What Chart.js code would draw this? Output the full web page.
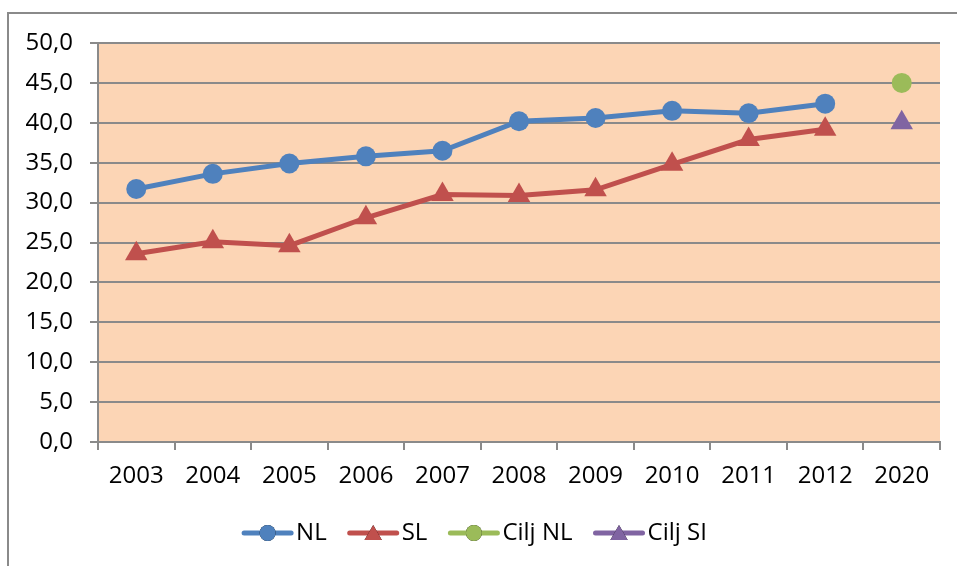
<!DOCTYPE html>
<html>
<head>
<meta charset="utf-8">
<script src="https://cdn.jsdelivr.net/npm/chart.js@4"></script>
<style>
  html, body { margin: 0; padding: 0; background: #fff; }
  #wrap { width: 957px; height: 566px; }
</style>
</head>
<body>
<div id="wrap"><canvas id="grafico" width="957" height="566"></canvas></div>
<script>
const leta = ['2003', '2004', '2005', '2006', '2007', '2008', '2009', '2010', '2011', '2012', '2020']
const vrednostiNL = [31.7, 33.6, 34.9, 35.8, 36.5, 40.2, 40.6, 41.5, 41.2, 42.4, null]
const vrednostiSL = [23.6, 25.1, 24.6, 28.1, 31.0, 30.9, 31.6, 34.8, 37.9, 39.2, null]
const ciljNL = [null, null, null, null, null, null, null, null, null, null, 45.0]
const ciljSI = [null, null, null, null, null, null, null, null, null, null, 40.0]

const pisava = '"Open Sans", Lato, sans-serif'
const velikost = 24
const sivaCrta = '#8a8a8a'

// ozadje risalne ploskve + zunanji okvir
const ozadje = {
  id: 'ozadje',
  beforeDraw(chart) {
    const ctx = chart.ctx
    const a = chart.chartArea
    ctx.save()
    ctx.fillStyle = '#fff'
    ctx.fillRect(0, 0, chart.width, chart.height)
    ctx.strokeStyle = sivaCrta
    ctx.lineWidth = 2
    ctx.strokeRect(8, 13, chart.width + 20, chart.height + 20)
    ctx.fillStyle = '#fcd5b5'
    ctx.fillRect(a.left, a.top, a.right - a.left, a.bottom - a.top)
    ctx.restore()
  }
}

// legenda: crta z oznako na sredini, kot v Excelu
const legenda = {
  id: 'legenda',
  afterDraw(chart) {
    const ctx = chart.ctx
    const y = 533
    const dolzinaCrte = 51
    ctx.save()
    ctx.font = velikost + 'px ' + pisava
    ctx.textBaseline = 'middle'
    const elementi = chart.data.datasets.map(ds => ({
      ds: ds,
      sirina: dolzinaCrte + 4 + ctx.measureText(ds.label).width
    }))
    const razmik = 20
    let skupaj = elementi.reduce((s, e) => s + e.sirina, 0) + razmik * (elementi.length - 1)
    let x = 475 - skupaj / 2
    elementi.forEach(e => {
      const ds = e.ds
      ctx.strokeStyle = ds.borderColor
      ctx.lineWidth = 5
      ctx.lineCap = 'round'
      ctx.beginPath()
      ctx.moveTo(x + 2, y)
      ctx.lineTo(x + dolzinaCrte - 2, y)
      ctx.stroke()
      Chart.helpers.drawPoint(ctx, {
        pointStyle: ds.pointStyle,
        radius: ds.pointStyle === 'triangle' ? 10 : 8,
        rotation: 0,
        borderWidth: 0
      }, x + dolzinaCrte / 2, ds.pointStyle === 'triangle' ? y + 2 : y)
      ctx.fillStyle = ds.pointBackgroundColor
      ctx.fill()
      ctx.fillStyle = '#000'
      ctx.fillText(ds.label, x + dolzinaCrte + 3, y)
      x += e.sirina + razmik
    })
    ctx.restore()
  }
}

function serija(oznaka, podatki, barva, oblika, polmer) {
  return {
    label: oznaka,
    data: podatki,
    borderColor: barva,
    backgroundColor: barva,
    pointBackgroundColor: barva,
    pointBorderColor: barva,
    pointStyle: oblika,
    pointRadius: polmer,
    pointBorderWidth: 0,
    borderWidth: 5,
    tension: 0,
    spanGaps: false
  }
}

const graficoCilj = new Chart(document.getElementById('grafico'), {
  type: 'line',
  data: {
    labels: leta,
    datasets: [
      serija('NL', vrednostiNL, '#4f81bd', 'circle', 10),
      serija('SL', vrednostiSL, '#c0504d', 'triangle', 13),
      serija('Cilj NL', ciljNL, '#9bbb59', 'circle', 10),
      serija('Cilj SI', ciljSI, '#8064a2', 'triangle', 13)
    ]
  },
  options: {
    responsive: false,
    animation: false,
    layout: { padding: { left: 0, top: 43, right: 17, bottom: 0 } },
    plugins: {
      legend: { display: false },
      tooltip: { enabled: false }
    },
    scales: {
      x: {
        offset: true,
        grid: {
          offset: true,
          drawOnChartArea: false,
          drawTicks: true,
          tickLength: 8,
          color: sivaCrta,
          lineWidth: 2
        },
        border: { display: true, color: sivaCrta, width: 2 },
        ticks: { color: '#000', font: { family: pisava, size: velikost }, padding: 12, maxRotation: 0 },
        afterFit(scale) { scale.height = 124 }
      },
      y: {
        min: 0,
        max: 50,
        grid: {
          color: sivaCrta,
          lineWidth: 2,
          drawTicks: true,
          tickLength: 8
        },
        border: { display: true, color: sivaCrta, width: 2 },
        ticks: {
          stepSize: 5,
          color: '#000',
          font: { family: pisava, size: velikost },
          padding: 17,
          callback: v => v.toFixed(1).replace('.', ',')
        },
        afterFit(scale) { scale.width = 98 }
      }
    }
  },
  plugins: [ozadje, legenda]
})
</script>
</body>
</html>
